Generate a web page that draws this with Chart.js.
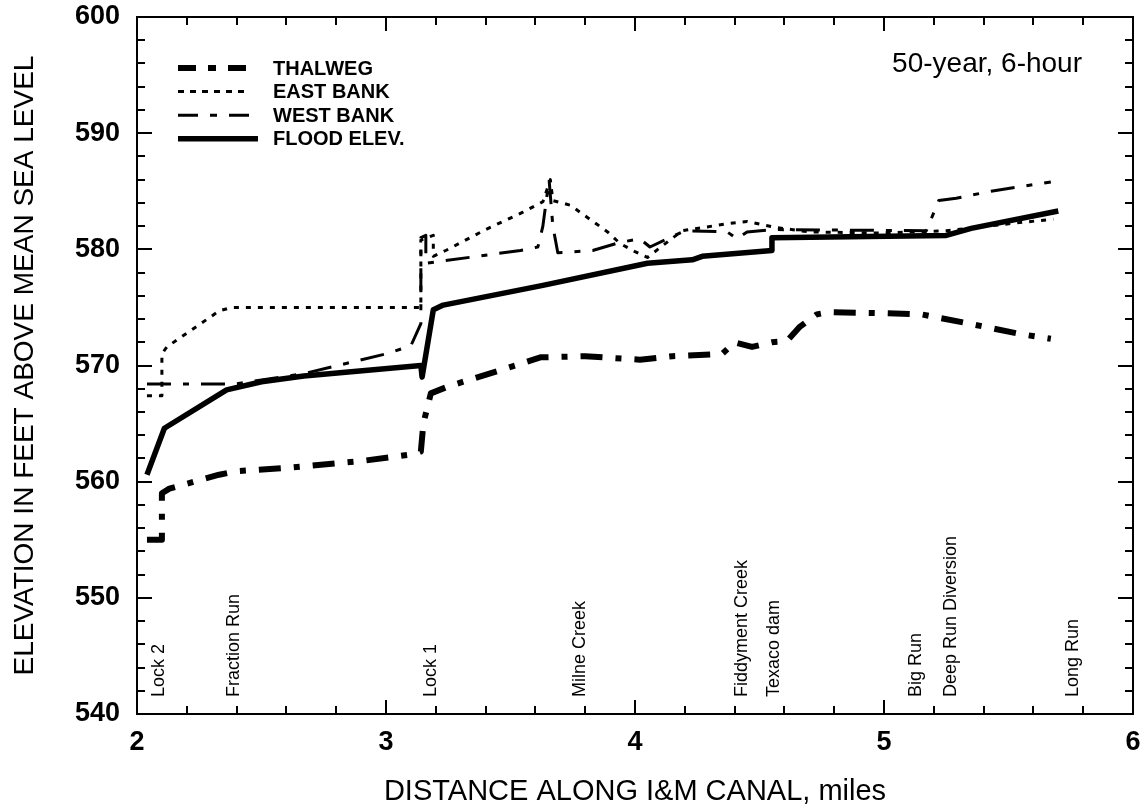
<!DOCTYPE html>
<html>
<head>
<meta charset="utf-8">
<script src="https://cdn.jsdelivr.net/npm/chart.js@4/dist/chart.umd.min.js"></script>
<style>
  body { margin: 0; background: #fff; }
  #wrap { width: 1148px; height: 812px; }
</style>
</head>
<body>
<div id="wrap"><canvas id="profile" width="1148" height="812"></canvas></div>
<script>
// distances along the canal (miles) and elevations (ft above MSL)
const thalwegMiles = [2.04, 2.10, 2.10, 2.13, 2.33, 2.40, 2.61, 2.91, 3.12, 3.14, 3.15, 3.18, 3.25, 3.52, 3.62, 3.80, 4.02, 4.15, 4.35, 4.40, 4.47, 4.55, 4.61, 4.66, 4.73, 4.78, 5.00, 5.15, 5.32, 5.55, 5.67];
const thalwegElev  = [555.0, 555.0, 559.0, 559.4, 560.6, 560.9, 561.2, 561.8, 562.4, 562.6, 565.0, 567.6, 568.2, 570.0, 570.7, 570.8, 570.5, 570.8, 571.0, 572.0, 571.6, 572.0, 572.1, 573.3, 574.4, 574.6, 574.5, 574.4, 573.7, 572.7, 572.3];

const eastMiles = [2.04, 2.10, 2.10, 2.12, 2.33, 2.38, 3.12, 3.14, 3.14, 3.19, 3.19, 3.24, 3.40, 3.55, 3.63, 3.66, 3.67, 3.74, 3.89, 3.94, 4.00, 4.05, 4.14, 4.19, 4.37, 4.45, 4.56, 4.70, 5.00, 5.25, 5.50, 5.68];
const eastElev  = [567.4, 567.4, 571.0, 571.6, 574.7, 575.0, 575.0, 575.0, 580.8, 581.2, 579.4, 579.9, 581.7, 583.2, 584.1, 586.0, 584.2, 583.8, 581.5, 580.5, 579.8, 579.3, 580.8, 581.6, 582.2, 582.4, 581.9, 581.5, 581.4, 581.6, 582.2, 582.6];

const westMiles = [2.04, 2.39, 2.67, 3.00, 3.10, 3.14, 3.14, 3.16, 3.16, 3.54, 3.61, 3.63, 3.655, 3.67, 3.69, 3.83, 3.94, 4.02, 4.06, 4.20, 4.37, 4.41, 4.45, 4.56, 5.17, 5.22, 5.29, 5.43, 5.67];
const westElev  = [568.4, 568.4, 569.3, 571.0, 571.7, 573.6, 581.0, 581.2, 578.8, 579.9, 580.2, 582.0, 586.0, 582.0, 579.7, 579.9, 580.6, 580.9, 580.2, 581.6, 581.5, 580.9, 581.5, 581.7, 581.6, 584.2, 584.4, 585.0, 585.8];

const floodMiles = [2.04, 2.11, 2.36, 2.50, 2.67, 3.14, 3.145, 3.19, 3.23, 3.63, 4.05, 4.23, 4.27, 4.55, 4.55, 5.25, 5.35, 5.70];
const floodElev  = [560.6, 564.6, 567.9, 568.6, 569.1, 570.0, 569.0, 574.8, 575.2, 576.9, 578.8, 579.1, 579.4, 579.9, 581.0, 581.2, 581.8, 583.3];

const seriesNames = ['THALWEG', 'EAST BANK', 'WEST BANK', 'FLOOD ELEV.'];

const landmarkNames = ['Lock 2', 'Fraction Run', 'Lock 1', 'Milne Creek', 'Fiddyment Creek', 'Texaco dam', 'Big Run', 'Deep Run Diversion', 'Long Run'];
const landmarkMiles = [2.09, 2.39, 3.18, 3.78, 4.43, 4.56, 5.13, 5.27, 5.76];

const stormLabel = '50-year, 6-hour';

const toPoints = (xs, ys) => xs.map((x, i) => ({ x: x, y: ys[i] }));

const FONT = '"Liberation Sans", Arial, Helvetica, sans-serif';

// frame, inward ticks, landmark labels and the in-plot legend
const extras = {
  id: 'extras',
  afterDatasetsDraw(chart) {
    const ctx = chart.ctx;
    const area = chart.chartArea;
    const xs = chart.scales.x;
    const ys = chart.scales.y;
    ctx.save();
    ctx.strokeStyle = '#000';
    ctx.lineWidth = 2;
    ctx.setLineDash([]);
    ctx.strokeRect(area.left, area.top, area.right - area.left, area.bottom - area.top);

    ctx.beginPath();
    for (let v = 2; v <= 6.001; v += 0.2) {
      const px = Math.round(xs.getPixelForValue(v));
      const major = Math.abs(v - Math.round(v)) < 0.01;
      const len = major ? 14 : 8;
      ctx.moveTo(px, area.bottom); ctx.lineTo(px, area.bottom - len);
      ctx.moveTo(px, area.top); ctx.lineTo(px, area.top + len);
    }
    for (let v = 540; v <= 600; v += 2) {
      const py = Math.round(ys.getPixelForValue(v));
      const major = v % 10 === 0;
      const len = major ? 15 : 8;
      ctx.moveTo(area.left, py); ctx.lineTo(area.left + len, py);
      ctx.moveTo(area.right, py); ctx.lineTo(area.right - len, py);
    }
    ctx.stroke();

    // landmark names, written bottom to top
    ctx.fillStyle = '#000';
    ctx.font = '18px ' + FONT;
    ctx.textAlign = 'left';
    ctx.textBaseline = 'middle';
    landmarkNames.forEach((name, i) => {
      const px = xs.getPixelForValue(landmarkMiles[i]);
      ctx.save();
      ctx.translate(px, area.bottom - 17);
      ctx.rotate(-Math.PI / 2);
      ctx.fillText(name, 0, 0);
      ctx.restore();
    });

    ctx.font = '28px ' + FONT;
    ctx.textAlign = 'right';
    ctx.textBaseline = 'alphabetic';
    ctx.fillText(stormLabel, area.right - 51, area.top + 55);

    // legend
    ctx.font = 'bold 20px ' + FONT;
    ctx.textAlign = 'left';
    ctx.textBaseline = 'middle';
    chart.data.datasets.forEach((ds, i) => {
      const y = area.top + 51 + i * 23.6;
      ctx.beginPath();
      ctx.lineWidth = ds.borderWidth;
      ctx.setLineDash(ds.legendDash || []);
      ctx.lineCap = 'butt';
      ctx.moveTo(area.left + 41, y);
      ctx.lineTo(area.left + (i === 3 ? 121 : 113), y);
      ctx.stroke();
      ctx.setLineDash([]);
      ctx.fillText(ds.label, area.left + 136, y + 1);
    });
    ctx.restore();
  }
};

const ctx = document.getElementById('profile').getContext('2d');
new Chart(ctx, {
  type: 'scatter',
  data: {
    datasets: [
      {
        label: seriesNames[0],
        data: toPoints(thalwegMiles, thalwegElev),
        borderWidth: 6,
        borderDash: [22, 13, 6, 13],
        legendDash: [18, 12, 8, 12]
      },
      {
        label: seriesNames[1],
        data: toPoints(eastMiles, eastElev),
        borderWidth: 3,
        borderDash: [5, 7],
        legendDash: [6, 6]
      },
      {
        label: seriesNames[2],
        data: toPoints(westMiles, westElev),
        borderWidth: 3,
        borderDash: [24, 12, 6, 12],
        legendDash: [20, 12, 7, 12]
      },
      {
        label: seriesNames[3],
        data: toPoints(floodMiles, floodElev),
        borderWidth: 5.5,
        borderDash: [],
        legendDash: []
      }
    ].map(ds => Object.assign({
      showLine: true,
      pointRadius: 0,
      borderColor: '#000',
      backgroundColor: '#000',
      fill: false,
      tension: 0,
      borderJoinStyle: 'round'
    }, ds))
  },
  options: {
    responsive: false,
    animation: false,
    layout: { padding: { top: 17, right: 15, left: 0, bottom: 0 } },
    plugins: {
      legend: { display: false },
      tooltip: { enabled: false }
    },
    scales: {
      x: {
        type: 'linear',
        min: 2,
        max: 6,
        grid: { display: false, drawTicks: false },
        border: { display: false },
        ticks: {
          stepSize: 1,
          padding: 12,
          color: '#000',
          font: { family: FONT, size: 27, weight: 'bold' }
        },
        title: {
          display: true,
          text: 'DISTANCE ALONG I&M CANAL, miles',
          color: '#000',
          font: { family: FONT, size: 29 },
          padding: { top: 0, bottom: 3 }
        },
        afterFit(scale) {
          scale.height = 98;
          scale.paddingLeft = 0;
          scale.paddingRight = 0;
        }
      },
      y: {
        type: 'linear',
        min: 540,
        max: 600,
        grid: { display: false, drawTicks: false },
        border: { display: false },
        ticks: {
          stepSize: 10,
          padding: 17,
          color: '#000',
          font: { family: FONT, size: 27, weight: 'bold' }
        },
        title: {
          display: true,
          text: 'ELEVATION IN FEET ABOVE MEAN SEA LEVEL',
          color: '#000',
          font: { family: FONT, size: 28 },
          padding: { top: 8, bottom: 0 }
        },
        afterFit(scale) {
          scale.width = 137;
          scale.paddingTop = 0;
          scale.paddingBottom = 0;
        }
      }
    }
  },
  plugins: [extras]
});
</script>
</body>
</html>
